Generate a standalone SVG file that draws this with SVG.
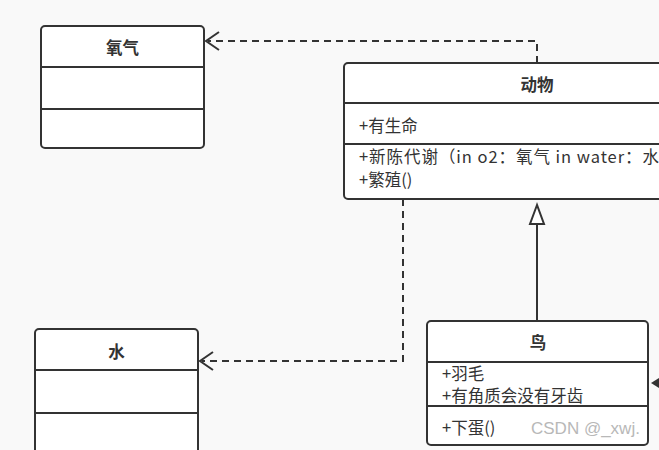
<svg xmlns="http://www.w3.org/2000/svg" width="659" height="450" viewBox="0 0 659 450">
<style>
.box{fill:#ffffff;stroke:#333333;stroke-width:2}
.div{stroke:#333333;stroke-width:2}
.title{font-family:"Noto Sans CJK SC","Microsoft YaHei",sans-serif;font-size:16.5px;font-weight:bold;fill:#333333;text-anchor:middle;dominant-baseline:central}
.attr{font-family:"Noto Sans CJK SC","Microsoft YaHei",sans-serif;font-size:16.5px;fill:#333333;dominant-baseline:central}
.dash{fill:none;stroke:#333333;stroke-width:2;stroke-dasharray:7 5}
.solid{fill:none;stroke:#333333;stroke-width:2}
.open{fill:none;stroke:#333333;stroke-width:2}
</style>
<rect x="0" y="0" width="659" height="450" fill="#f9f9f9"/>
<g id="connectors">
  <path class="dash" d="M537 63 V41 H208"/>
  <path class="open" d="M219 32 L206 41 L219 50"/>
  <path class="dash" d="M403 199 V361 H202"/>
  <path class="open" d="M213 352 L200 361 L213 370"/>
  <path class="solid" d="M537 321 V224"/>
  <polygon points="537,205 530,224 544,224" fill="#ffffff" stroke="#333333" stroke-width="2"/>
  <polygon points="651,383 659,378 659,388" fill="#333333"/>
</g>
<g id="oxygen">
  <rect class="box" x="41" y="26" width="163" height="122" rx="4"/>
  <line class="div" x1="41" y1="67" x2="204" y2="67"/>
  <line class="div" x1="41" y1="109" x2="204" y2="109"/>
  <text class="title" x="122.5" y="47">氧气</text>
</g>
<g id="water">
  <rect class="box" x="35" y="329" width="163" height="140" rx="4"/>
  <line class="div" x1="35" y1="370" x2="198" y2="370"/>
  <line class="div" x1="35" y1="413" x2="198" y2="413"/>
  <text class="title" x="116.5" y="351">水</text>
</g>
<g id="animal">
  <rect class="box" x="344" y="63" width="386" height="136" rx="4"/>
  <line class="div" x1="344" y1="103" x2="730" y2="103"/>
  <line class="div" x1="344" y1="144" x2="730" y2="144"/>
  <text class="title" x="537" y="84">动物</text>
  <text class="attr" x="359" y="125">+有生命</text>
  <text class="attr" x="359" y="155.5" textLength="300" lengthAdjust="spacing">+新陈代谢（in o2：氧气 in water：水</text>
  <text class="attr" x="359" y="179">+繁殖()</text>
</g>
<g id="bird">
  <rect class="box" x="427" y="321" width="221" height="124" rx="4"/>
  <line class="div" x1="427" y1="362" x2="648" y2="362"/>
  <line class="div" x1="427" y1="406" x2="648" y2="406"/>
  <text class="title" x="538" y="342">鸟</text>
  <text class="attr" x="442" y="373">+羽毛</text>
  <text class="attr" x="442" y="395">+有角质会没有牙齿</text>
  <text class="attr" x="442" y="427">+下蛋()</text>
</g>
<text x="531" y="434" font-family="Liberation Sans, Arial, sans-serif" font-size="17" fill="#b8b8b8">CSDN @_xwj.</text>
</svg>
